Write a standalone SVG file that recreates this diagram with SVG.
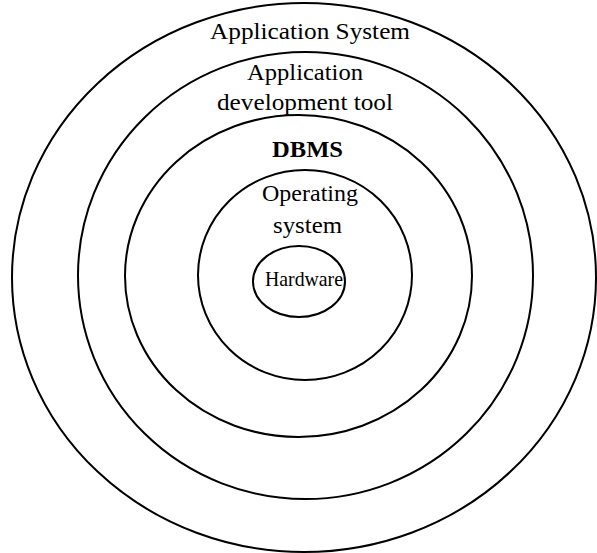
<svg xmlns="http://www.w3.org/2000/svg" width="597" height="553" viewBox="0 0 597 553">
<style>
.ring{fill:none;stroke:#000;stroke-width:2}
.t{font-family:"Liberation Serif","Times New Roman",serif;font-size:24px;fill:#000;text-anchor:middle}
.b{font-weight:bold;font-size:23px}
.s{font-size:22px}
</style>
<rect width="597" height="553" fill="#fff"/>
<g id="application-system">
<ellipse class="ring" cx="304" cy="277.5" rx="292" ry="274.5"/>
<text class="t" x="310" y="38.5" textLength="200" lengthAdjust="spacingAndGlyphs">Application System</text>
</g>
<g id="application-development-tool">
<ellipse class="ring" cx="305.5" cy="275.5" rx="227.5" ry="223.5"/>
<text class="t" x="305" y="79.5" textLength="116" lengthAdjust="spacingAndGlyphs">Application</text>
<text class="t" x="305" y="110" textLength="176" lengthAdjust="spacingAndGlyphs">development tool</text>
</g>
<g id="dbms">
<ellipse class="ring" cx="298.5" cy="276" rx="173.5" ry="161"/>
<text class="t b" x="307.5" y="157" textLength="71" lengthAdjust="spacingAndGlyphs">DBMS</text>
</g>
<g id="operating-system">
<ellipse class="ring" cx="305" cy="275" rx="107" ry="105"/>
<text class="t" x="310" y="201" textLength="96" lengthAdjust="spacingAndGlyphs">Operating</text>
<text class="t" x="307.5" y="233" textLength="69" lengthAdjust="spacingAndGlyphs">system</text>
</g>
<g id="hardware">
<ellipse class="ring" cx="299" cy="281.5" rx="46" ry="35.5"/>
<text class="t s" x="304" y="285.5" textLength="78" lengthAdjust="spacingAndGlyphs">Hardware</text>
</g>
<g id="connectors"></g>
</svg>
